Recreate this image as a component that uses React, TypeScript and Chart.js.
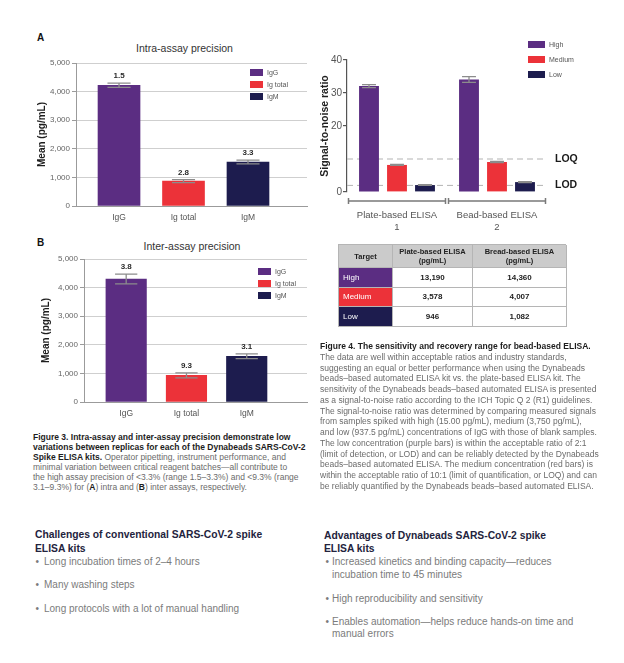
import React, { useEffect, useRef } from 'react';
import { Chart, registerables } from 'chart.js';

Chart.register(...registerables);

const FONT = '"Liberation Sans", Arial, Helvetica, sans-serif';

const PURPLE = '#5b2d82';
const RED = '#ec3239';
const NAVY = '#1d1c4e';

// ---------- Figure 3 data ----------
const precisionCategories = ['IgG', 'Ig total', 'IgM'];
const precisionTicks = [0, 1000, 2000, 3000, 4000, 5000];
const intraMeans = [4220, 870, 1540];
const intraErrors = [75, 50, 65];
const intraCV = ['1.5', '2.8', '3.3'];
const interMeans = [4300, 930, 1600];
const interErrors = [170, 85, 80];
const interCV = ['3.8', '9.3', '3.1'];

// ---------- Figure 4 data ----------
const snrGroups = [['Plate-based ELISA', '1'], ['Bead-based ELISA', '2']];
const snrSeries = ['High', 'Medium', 'Low'];
const snrHigh = [32.1, 34.1];
const snrMedium = [8.2, 9.1];
const snrLow = [2.1, 3.0];
const snrHighErr = [0.45, 0.85];
const snrMediumErr = [0.15, 0.2];
const snrLowErr = [0.1, 0.15];
const snrTicks = [0, 10, 20, 30, 40];
const limitValues = [10, 2];
const limitLabels = ['LOQ', 'LOD'];

const tableTargets = ['High', 'Medium', 'Low'];
const plateValues = ['13,190', '3,578', '946'];
const beadValues = ['14,360', '4,007', '1,082'];

const seriesColors = [PURPLE, RED, NAVY];

function errorBarPlugin(errs: number[][], labels: string[][] | null, capRatio: number, color: string) {
  return {
    id: 'errorBars',
    afterDatasetsDraw(chart: any) {
      const ctx = chart.ctx;
      const ys = chart.scales.y;
      chart.data.datasets.forEach((ds: any, di: number) => {
        const meta = chart.getDatasetMeta(di);
        meta.data.forEach((bar: any, i: number) => {
          const raw = ds.data[i];
          const v = typeof raw === 'number' ? raw : raw.y;
          const e = errs[di][i];
          const top = ys.getPixelForValue(v + e);
          const bot = ys.getPixelForValue(v - e);
          const half = (bar.width * capRatio) / 2;
          ctx.save();
          ctx.strokeStyle = color;
          ctx.lineWidth = 1.3;
          ctx.beginPath();
          ctx.moveTo(bar.x, top);
          ctx.lineTo(bar.x, bot);
          ctx.moveTo(bar.x - half, top);
          ctx.lineTo(bar.x + half, top);
          ctx.moveTo(bar.x - half, bot);
          ctx.lineTo(bar.x + half, bot);
          ctx.stroke();
          if (labels) {
            ctx.fillStyle = '#2a2a2a';
            ctx.font = `bold 8px ${FONT}`;
            ctx.textAlign = 'center';
            ctx.textBaseline = 'middle';
            ctx.fillText(labels[di][i], bar.x, top - 7);
          }
          ctx.restore();
        });
      });
    },
  };
}

const limitsPlugin = {
  id: 'limits',
  beforeDatasetsDraw(chart: any) {
    const { ctx, chartArea } = chart;
    const ys = chart.scales.y;
    ctx.save();
    limitValues.forEach((v, i) => {
      const py = ys.getPixelForValue(v);
      ctx.strokeStyle = '#b3b3b3';
      ctx.lineWidth = 1;
      ctx.setLineDash([6, 4]);
      ctx.beginPath();
      ctx.moveTo(chartArea.left, py);
      ctx.lineTo(chartArea.right, py);
      ctx.stroke();
      ctx.setLineDash([]);
      ctx.fillStyle = '#1a1a1a';
      ctx.font = `bold 10.5px ${FONT}`;
      ctx.textAlign = 'left';
      ctx.textBaseline = 'middle';
      ctx.fillText(limitLabels[i], chartArea.right + 8, py);
    });
    ctx.restore();
  },
};

const bracketPlugin = {
  id: 'bracket',
  afterDraw(chart: any) {
    const { ctx, chartArea } = chart;
    const xs = chart.scales.x;
    const n = chart.data.labels.length;
    const slot = (xs.right - xs.left) / n;
    const y = chartArea.bottom + 9;
    ctx.save();
    ctx.strokeStyle = '#7a7a7a';
    ctx.lineWidth = 1.5;
    for (let i = 0; i < n; i++) {
      const c = xs.getPixelForValue(i);
      const l = c - slot / 2 + 1.5;
      const r = c + slot / 2 - 1.5;
      ctx.beginPath();
      ctx.moveTo(l, y);
      ctx.lineTo(r, y);
      ctx.moveTo(l, y - 3);
      ctx.lineTo(l, y + 3);
      ctx.moveTo(r, y - 3);
      ctx.lineTo(r, y + 3);
      ctx.stroke();
    }
    ctx.restore();
  },
};

interface PrecOpts {
  means: number[];
  errors: number[];
  labels: string[];
  xMin: number;
  xMax: number;
  barPx: number;
  padTop: number;
  padRight: number;
  xHeight: number;
  yWidth: number;
  titlePad: number;
}

function makePrecision(canvas: HTMLCanvasElement, o: PrecOpts) {
  return new Chart(canvas, {
    type: 'bar',
    data: {
      datasets: [
        {
          data: o.means.map((m, i) => ({ x: i + 1, y: m })),
          backgroundColor: seriesColors,
          barThickness: o.barPx,
          borderWidth: 0,
        } as any,
      ],
    },
    options: {
      animation: false,
      responsive: false,
      maintainAspectRatio: false,
      layout: { padding: { top: o.padTop, right: o.padRight, left: 0, bottom: 0 } },
      plugins: { legend: { display: false }, tooltip: { enabled: false } },
      scales: {
        x: {
          type: 'linear',
          min: o.xMin,
          max: o.xMax,
          offset: false,
          afterBuildTicks: (s: any) => {
            s.ticks = precisionCategories.map((_, i) => ({ value: i + 1 }));
          },
          afterFit: (s: any) => {
            s.height = o.xHeight;
          },
          grid: { display: false, drawTicks: false },
          border: { display: true, color: '#9b9b9b', width: 1 },
          ticks: {
            padding: 7,
            color: '#555',
            autoSkip: false,
            maxRotation: 0,
            font: { family: FONT, size: 8.5 },
            callback: (v: any) => precisionCategories[Math.round(Number(v)) - 1] ?? '',
          },
        },
        y: {
          min: 0,
          max: 5000,
          afterBuildTicks: (s: any) => {
            s.ticks = precisionTicks.map((v) => ({ value: v }));
          },
          afterFit: (s: any) => {
            s.width = o.yWidth;
          },
          grid: { color: '#cfcfcf', lineWidth: 1, tickLength: 4, tickColor: '#9b9b9b' },
          border: { color: '#9b9b9b', width: 1 },
          ticks: {
            padding: 2,
            color: '#666',
            font: { family: FONT, size: 8 },
            callback: (v: any) => Number(v).toLocaleString('en-US'),
          },
          title: {
            display: true,
            text: 'Mean (pg/mL)',
            color: '#1e1e1e',
            font: { family: FONT, size: 10, weight: 'bold' },
            padding: { top: o.titlePad, bottom: 0 },
          },
        },
      },
    } as any,
    plugins: [errorBarPlugin([o.errors], [o.labels], 0.55, '#8c8c8c')],
  });
}

function makeSnr(canvas: HTMLCanvasElement) {
  const datasets = [snrHigh, snrMedium, snrLow].map((d, i) => ({
    label: snrSeries[i],
    data: d,
    backgroundColor: seriesColors[i],
    borderWidth: 0,
    categoryPercentage: 0.84,
    barPercentage: 0.71,
  }));
  return new Chart(canvas, {
    type: 'bar',
    data: { labels: snrGroups as any, datasets },
    options: {
      animation: false,
      responsive: false,
      maintainAspectRatio: false,
      layout: { padding: { top: 10, right: 63, left: 0, bottom: 0 } },
      plugins: { legend: { display: false }, tooltip: { enabled: false } },
      scales: {
        x: {
          afterFit: (s: any) => {
            s.height = 48;
          },
          grid: { display: false, drawTicks: false },
          border: { display: false },
          ticks: {
            padding: 17,
            color: '#555',
            maxRotation: 0,
            font: { family: FONT, size: 9.5, lineHeight: 1.26 },
          },
        },
        y: {
          min: 0,
          max: 40,
          afterBuildTicks: (s: any) => {
            s.ticks = snrTicks.map((v) => ({ value: v }));
          },
          afterFit: (s: any) => {
            s.width = 37;
          },
          grid: {
            drawOnChartArea: false,
            tickLength: 4,
            lineWidth: 1.2,
            tickColor: (c: any) => (c.tick && c.tick.value === 10 ? 'rgba(0,0,0,0)' : '#555'),
          },
          border: { color: '#555', width: 1.2 },
          ticks: {
            padding: 1,
            color: '#555',
            font: { family: FONT, size: 10 },
            callback: (v: any) => (Number(v) === 10 ? '' : String(v)),
          },
          title: {
            display: true,
            text: 'Signal-to-noise ratio',
            color: '#1e1e1e',
            font: { family: FONT, size: 10.5, weight: 'bold' },
            padding: { top: 9, bottom: 0 },
          },
        },
      },
    } as any,
    plugins: [
      limitsPlugin,
      errorBarPlugin([snrHighErr, snrMediumErr, snrLowErr], null, 0.7, '#8c8c8c'),
      bracketPlugin,
    ],
  });
}

function ChartBox(props: { left: number; top: number; width: number; height: number; make: (c: HTMLCanvasElement) => Chart }) {
  const ref = useRef<HTMLCanvasElement | null>(null);
  useEffect(() => {
    if (!ref.current) return;
    const c = props.make(ref.current);
    return () => c.destroy();
  }, []);
  return (
    <div style={{ position: 'absolute', left: props.left, top: props.top, width: props.width, height: props.height }}>
      <canvas ref={ref} width={props.width} height={props.height} style={{ width: props.width, height: props.height, display: 'block' }} />
    </div>
  );
}

function L(props: { x: number; y: number; size?: number; color?: string; bold?: boolean; lh?: number; children: any; center?: boolean }) {
  const lh = props.lh ?? 12;
  const style: any = {
    position: 'absolute',
    top: props.y - lh / 2,
    lineHeight: lh + 'px',
    fontSize: props.size ?? 8,
    color: props.color ?? '#666',
    fontWeight: props.bold ? 'bold' : 'normal',
    whiteSpace: 'nowrap',
  };
  if (props.center) {
    style.left = props.x - 200;
    style.width = 400;
    style.textAlign = 'center';
  } else {
    style.left = props.x;
  }
  return <div style={style}>{props.children}</div>;
}

function Legend(props: { x: number; y: number; w: number; h: number; gap: number; labelX: number; names: string[] }) {
  return (
    <>
      {props.names.map((n, i) => (
        <React.Fragment key={n}>
          <div
            style={{
              position: 'absolute',
              left: props.x,
              top: props.y + i * props.gap,
              width: props.w,
              height: props.h,
              background: seriesColors[i],
            }}
          />
          <L x={props.labelX} y={props.y + i * props.gap + props.h / 2} size={7} color="#555" lh={10}>
            {n}
          </L>
        </React.Fragment>
      ))}
    </>
  );
}

function DataTable() {
  const border = '1px solid #b5b5b5';
  const cell: any = { boxSizing: 'border-box', borderRight: border, borderBottom: border, display: 'flex', alignItems: 'center' };
  const head: any = { ...cell, background: '#cbcbcb', justifyContent: 'center', textAlign: 'center', fontWeight: 'bold', fontSize: 7.5, lineHeight: '9px', color: '#222' };
  const val: any = { ...cell, background: '#fff', justifyContent: 'center', fontWeight: 'bold', fontSize: 8, color: '#222' };
  return (
    <div
      style={{
        position: 'absolute',
        left: 338,
        top: 244,
        width: 228,
        display: 'grid',
        gridTemplateColumns: '54px 80px 94px',
        gridTemplateRows: '23px 19.5px 19.5px 19.5px',
        borderTop: border,
        borderLeft: border,
        boxSizing: 'border-box',
      }}
    >
      <div style={head}>Target</div>
      <div style={head}>
        Plate-based ELISA
        <br />
        (pg/mL)
      </div>
      <div style={head}>
        Bread-based ELISA
        <br />
        (pg/mL)
      </div>
      {tableTargets.map((t, i) => (
        <React.Fragment key={t}>
          <div style={{ ...cell, background: seriesColors[i], color: '#fff', fontSize: 8, paddingLeft: 4 }}>{t}</div>
          <div style={val}>{plateValues[i]}</div>
          <div style={val}>{beadValues[i]}</div>
        </React.Fragment>
      ))}
    </div>
  );
}

const fig4Lines = [
  'The data are well within acceptable ratios and industry standards,',
  'suggesting an equal or better performance when using the Dynabeads',
  'beads\u2013based automated ELISA kit vs. the plate-based ELISA kit. The',
  'sensitivity of the Dynabeads beads\u2013based automated ELISA is presented',
  'as a signal-to-noise ratio according to the ICH Topic Q 2 (R1) guidelines.',
  'The signal-to-noise ratio was determined by comparing measured signals',
  'from samples spiked with high (15.00 pg/mL), medium (3,750 pg/mL),',
  'and low (937.5 pg/mL) concentrations of IgG with those of blank samples.',
  'The low concentration (purple bars) is within the acceptable ratio of 2:1',
  '(limit of detection, or LOD) and can be reliably detected by the Dynabeads',
  'beads\u2013based automated ELISA. The medium concentration (red bars) is',
  'within the acceptable ratio of 10:1 (limit of quantification, or LOQ) and can',
  'be reliably quantified by the Dynabeads beads\u2013based automated ELISA.',
];

export default function App() {
  const capGray = '#6b6b6b';
  const capDark = '#1d1d1d';
  const headColor = '#23233d';
  const bulletColor = '#7b7b7b';
  const CS = 8.5;
  return (
    <div
      style={{
        position: 'absolute',
        left: 0,
        top: 0,
        width: 624,
        height: 663,
        background: '#fff',
        fontFamily: FONT,
        overflow: 'hidden',
      }}
    >
      {/* Panel A */}
      <L x={37} y={37.5} size={10} bold color="#111">A</L>
      <L x={184.5} y={48} size={10.5} color="#333" center>Intra-assay precision</L>
      <ChartBox
        left={30}
        top={55}
        width={285}
        height={175}
        make={(c) =>
          makePrecision(c, {
            means: intraMeans,
            errors: intraErrors,
            labels: intraCV,
            xMin: 0.333,
            xMax: 3.915,
            barPx: 42,
            padTop: 8,
            padRight: 8,
            xHeight: 24,
            yWidth: 46,
            titlePad: 6,
          })
        }
      />
      <Legend x={250} y={69} w={13} h={7} gap={12} labelX={267} names={precisionCategories} />

      {/* Panel B */}
      <L x={37} y={243} size={10} bold color="#111">B</L>
      <L x={192} y={246} size={10.5} color="#333" center>Inter-assay precision</L>
      <ChartBox
        left={30}
        top={252}
        width={285}
        height={175}
        make={(c) =>
          makePrecision(c, {
            means: interMeans,
            errors: interErrors,
            labels: interCV,
            xMin: 0.3,
            xMax: 4.0,
            barPx: 40.5,
            padTop: 7,
            padRight: 8,
            xHeight: 25,
            yWidth: 54,
            titlePad: 10,
          })
        }
      />
      <Legend x={258} y={268} w={13} h={7} gap={12} labelX={275} names={precisionCategories} />

      {/* Figure 4 chart */}
      <ChartBox left={310} top={50} width={300} height={190} make={(c) => makeSnr(c)} />
      <Legend x={528} y={41} w={17} h={7} gap={15} labelX={549} names={snrSeries} />

      <DataTable />

      {/* Figure 3 caption */}
      <L x={33} y={437} size={CS} bold color={capDark} lh={10}>
        Figure 3. Intra-assay and inter-assay precision demonstrate low
      </L>
      <L x={33} y={447} size={CS} bold color={capDark} lh={10}>
        variations between replicas for each of the Dynabeads SARS-CoV-2
      </L>
      <L x={33} y={457} size={CS} color={capGray} lh={10}>
        <b style={{ color: capDark }}>Spike ELISA kits.</b> Operator pipetting, instrument performance, and
      </L>
      <L x={33} y={467} size={CS} color={capGray} lh={10}>
        minimal variation between critical reagent batches{'\u2014'}all contribute to
      </L>
      <L x={33} y={477} size={CS} color={capGray} lh={10}>
        the high assay precision of &lt;3.3% (range 1.5{'\u2013'}3.3%) and &lt;9.3% (range
      </L>
      <L x={33} y={487} size={CS} color={capGray} lh={10}>
        3.1{'\u2013'}9.3%) for (<b style={{ color: capDark }}>A</b>) intra and (<b style={{ color: capDark }}>B</b>) inter assays, respectively.
      </L>

      {/* Figure 4 caption */}
      <L x={320} y={346} size={CS} bold color={capDark} lh={10}>
        Figure 4. The sensitivity and recovery range for bead-based ELISA.
      </L>
      {fig4Lines.map((t, i) => (
        <L key={i} x={320} y={346 + (i + 1) * 10.75} size={CS} color={capGray} lh={10}>
          {t}
        </L>
      ))}

      {/* Bottom left */}
      <L x={35} y={534} size={10.3} bold color={headColor} lh={13}>
        Challenges of conventional SARS-CoV-2 spike
      </L>
      <L x={35} y={548} size={10.3} bold color={headColor} lh={13}>
        ELISA kits
      </L>
      {['Long incubation times of 2\u20134 hours', 'Many washing steps', 'Long protocols with a lot of manual handling'].map((t, i) => (
        <React.Fragment key={t}>
          <L x={35.5} y={[562, 585, 609][i]} size={10} color={bulletColor} lh={12}>{'\u2022'}</L>
          <L x={44} y={[562, 585, 609][i]} size={10} color={bulletColor} lh={12}>{t}</L>
        </React.Fragment>
      ))}

      {/* Bottom right */}
      <L x={324} y={535} size={10.3} bold color={headColor} lh={13}>
        Advantages of Dynabeads SARS-CoV-2 spike
      </L>
      <L x={324} y={548} size={10.3} bold color={headColor} lh={13}>
        ELISA kits
      </L>
      <L x={325.5} y={562} size={10} color={bulletColor} lh={12}>{'\u2022'}</L>
      <L x={332} y={562} size={10} color={bulletColor} lh={12}>
        Increased kinetics and binding capacity{'\u2014'}reduces
      </L>
      <L x={332} y={575} size={10} color={bulletColor} lh={12}>
        incubation time to 45 minutes
      </L>
      <L x={325.5} y={599} size={10} color={bulletColor} lh={12}>{'\u2022'}</L>
      <L x={332} y={599} size={10} color={bulletColor} lh={12}>
        High reproducibility and sensitivity
      </L>
      <L x={325.5} y={622} size={10} color={bulletColor} lh={12}>{'\u2022'}</L>
      <L x={332} y={622} size={10} color={bulletColor} lh={12}>
        Enables automation{'\u2014'}helps reduce hands-on time and
      </L>
      <L x={332} y={634} size={10} color={bulletColor} lh={12}>
        manual errors
      </L>
    </div>
  );
}
